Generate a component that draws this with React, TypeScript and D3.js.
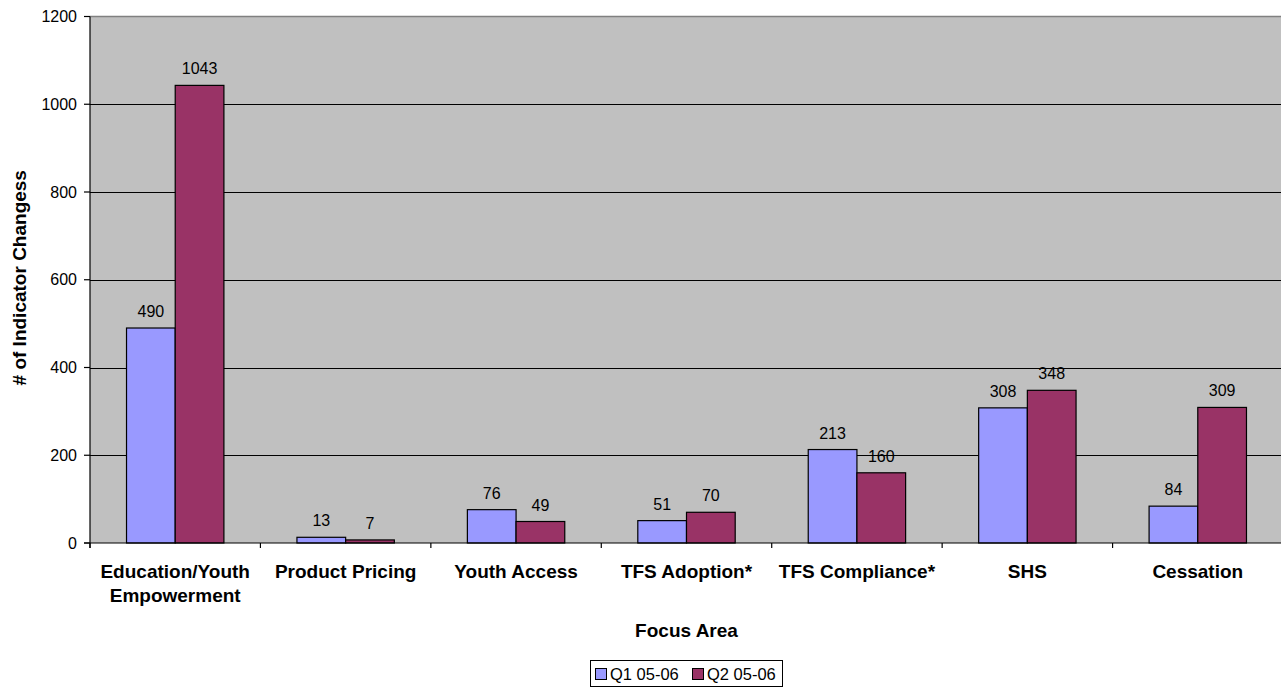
import React from "react";
import * as d3 from "d3";

const categories = [
  "Education/Youth\nEmpowerment",
  "Product Pricing",
  "Youth Access",
  "TFS Adoption*",
  "TFS Compliance*",
  "SHS",
  "Cessation",
];
const seriesNames = ["Q1 05-06", "Q2 05-06"];
const q1Values = [490, 13, 76, 51, 213, 308, 84];
const q2Values = [1043, 7, 49, 70, 160, 348, 309];
const yTicks = [0, 200, 400, 600, 800, 1000, 1200];
const colors = ["#9999FF", "#993366"];

const W = 1281;
const H = 688;
const FONT = "'Liberation Sans', Arial, sans-serif";

export default function App() {
  const left = 90;
  const right = 1283;
  const top = 16.5;
  const bottom = 543;

  const x = d3.scaleBand<string>().domain(categories).range([left, right]).paddingInner(0).paddingOuter(0);
  const xs = d3.scaleBand<string>().domain(seriesNames).range([0, x.bandwidth()]).paddingInner(0).paddingOuter(0.75);
  const y = d3.scaleLinear().domain([0, 1200]).range([bottom, top]);

  const series = [q1Values, q2Values];
  const tickXs = categories.map((c) => x(c) as number).concat([right]);

  return (
    <svg width={W} height={H} style={{ position: "absolute", left: 0, top: 0, background: "#fff" }} fontFamily={FONT}>
      <rect x={left} y={top} width={right - left} height={bottom - top} fill="#C0C0C0" />
      {yTicks.filter((t) => t > 0 && t < 1200).map((t) => (
        <line key={t} x1={left} x2={right} y1={Math.round(y(t)) + 0.5} y2={Math.round(y(t)) + 0.5} stroke="#000" strokeWidth={1} />
      ))}
      <line x1={left} x2={right} y1={top} y2={top} stroke="#808080" strokeWidth={1.5} />
      {series.map((vals, si) =>
        vals.map((v, ci) => {
          const bx = (x(categories[ci]) as number) + (xs(seriesNames[si]) as number);
          const by = y(v);
          return (
            <g key={`${si}-${ci}`}>
              <rect x={bx} y={by} width={xs.bandwidth()} height={bottom - by} fill={colors[si]} stroke="#000" strokeWidth={1.2} />
            </g>
          );
        })
      )}
      {series.map((vals, si) =>
        vals.map((v, ci) => {
          const bx = (x(categories[ci]) as number) + (xs(seriesNames[si]) as number);
          return (
            <text key={`l${si}-${ci}`} x={bx + xs.bandwidth() / 2} y={y(v) - 11} textAnchor="middle" fontSize={16} fill="#000">
              {v}
            </text>
          );
        })
      )}
      {/* axes */}
      <line x1={left} x2={left} y1={top} y2={bottom + 5} stroke="#000" strokeWidth={1.2} />
      <line x1={left - 6} x2={right} y1={bottom} y2={bottom} stroke="#000" strokeWidth={1.2} />
      {yTicks.map((t) => (
        <g key={`yt${t}`}>
          <line x1={left - 6} x2={left} y1={y(t)} y2={y(t)} stroke="#000" strokeWidth={1.2} />
          <text x={77} y={y(t)} dy="0.35em" textAnchor="end" fontSize={16} fill="#000">
            {t}
          </text>
        </g>
      ))}
      {tickXs.map((tx, i) => (
        <line key={`xt${i}`} x1={tx} x2={tx} y1={bottom} y2={bottom + 5} stroke="#000" strokeWidth={1.2} />
      ))}
      {categories.map((c) => {
        const lines = c.split("\n");
        const cx = (x(c) as number) + x.bandwidth() / 2;
        return (
          <text key={c} x={cx} y={578} textAnchor="middle" fontSize={19} fontWeight="bold" fill="#000">
            {lines.map((ln, i) => (
              <tspan key={i} x={cx} dy={i === 0 ? 0 : 24}>
                {ln}
              </tspan>
            ))}
          </text>
        );
      })}
      <text x={(left + right) / 2} y={637} textAnchor="middle" fontSize={19} fontWeight="bold" fill="#000">
        Focus Area
      </text>
      <text transform={`translate(25.5, ${(top + bottom) / 2 - 2}) rotate(-90)`} textAnchor="middle" fontSize={19} fontWeight="bold" fill="#000">
        # of Indicator Changess
      </text>
      {/* legend */}
      <rect x={590.5} y={660.5} width={192} height={26} fill="#fff" stroke="#000" strokeWidth={1} />
      {seriesNames.map((s, i) => {
        const lx = i === 0 ? 595 : 692;
        return (
          <g key={s}>
            <rect x={lx + 0.5} y={668.5} width={11} height={11} fill={colors[i]} stroke="#000" strokeWidth={1} />
            <text x={lx + 15} y={680} fontSize={16.5} fill="#000">
              {s}
            </text>
          </g>
        );
      })}
    </svg>
  );
}
